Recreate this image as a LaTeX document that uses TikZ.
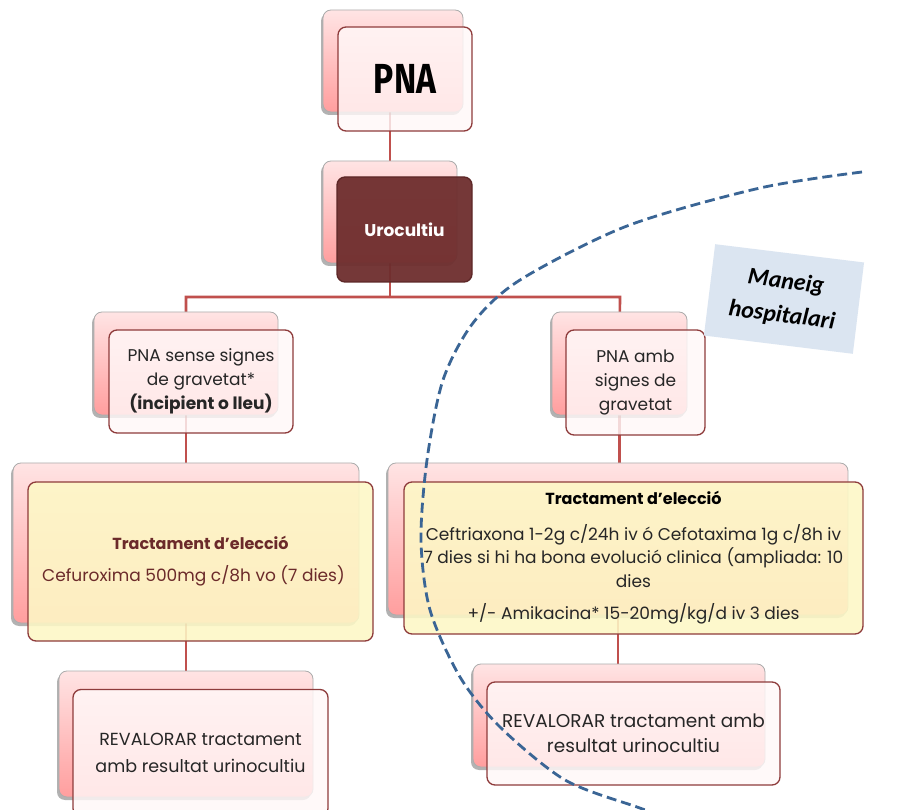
\documentclass[tikz,border=0pt]{standalone}
\usepackage{fontspec}
\setmainfont{Poppins}
\newfontfamily\pnafont{Fira Sans}
\newfontfamily\calfont{Carlito}
\usetikzlibrary{shadows}
\pgfdeclarelayer{bg}
\pgfsetlayers{bg,main}
\definecolor{connred}{HTML}{C0504D}
\definecolor{pinktop}{HTML}{FFE4E4}
\definecolor{pinkbot}{HTML}{FF9E9E}
\definecolor{frontfill}{HTML}{FFF8F8}
\definecolor{frontdraw}{HTML}{8E3B3B}
\definecolor{urofill}{HTML}{6E2E2E}
\definecolor{yellfill}{HTML}{FDF8C6}
\definecolor{curveblue}{HTML}{3A6595}
\definecolor{maneigfill}{HTML}{DBE5F1}
\definecolor{maroontxt}{HTML}{6B2A2A}
\definecolor{bodytxt}{HTML}{262626}
\tikzset{
  conn/.style={draw=connred, line width=2.6pt},
  backbox/.style={draw=gray!65, line width=0.8pt, rounded corners=8pt,
    top color=pinktop, bottom color=pinkbot,
    drop shadow={shadow xshift=-2pt, shadow yshift=-3pt, opacity=0.3, fill=black}},
  frontbox/.style={draw=frontdraw, line width=1.3pt, rounded corners=8pt,
    fill=frontfill, fill opacity=0.82, text opacity=1, align=center,
    text=bodytxt, inner sep=0pt},
  yellbox/.style={frontbox, fill=yellfill, fill opacity=0.88},
  urobox/.style={frontbox, fill=urofill, fill opacity=0.95, draw=urofill!85!black, text=white},
  bodyfont/.style={font=\fontsize{17}{24}\selectfont},
}
\begin{document}
\begin{tikzpicture}[x=1pt,y=-1pt]
\clip (0,0) rectangle (906,810);
\begin{pgfonlayer}{bg}
\fill[white] (0,0) rectangle (906,810);
\end{pgfonlayer}
% back boxes
\path
  (393,61)    node[backbox, minimum width=140, minimum height=102] (pnaB) {}
  (390,212)   node[backbox, minimum width=134, minimum height=102] (uroB) {}
  (186,363.5) node[backbox, minimum width=184, minimum height=103] (midLB) {}
  (619.5,363.5) node[backbox, minimum width=135, minimum height=103] (midRB) {}
  (186,543)   node[backbox, minimum width=346, minimum height=160] (trLB) {}
  (618,539)   node[backbox, minimum width=460, minimum height=152] (trRB) {}
  (186,734)   node[backbox, minimum width=254, minimum height=126] (revLB) {}
  (619,715.5) node[backbox, minimum width=292, minimum height=103] (revRB) {};
\coordinate (busL) at (186,297);
\coordinate (busR) at (620,297);
% front boxes
\node[frontbox, minimum width=134, minimum height=104] (pnaF) at (405,79)
  {\scalebox{0.8}[1]{\pnafont\bfseries\fontsize{42}{42}\selectfont\color{black}PNA}};
\node[urobox, minimum width=135, minimum height=105] (uroF) at (404.5,229.5)
  {\bfseries\fontsize{17}{20}\selectfont Urocultiu};
\node[frontbox, bodyfont, minimum width=184, minimum height=103] (midLF) at (201,381.5)
  {PNA sense signes\\de gravetat*\\\bfseries (incipient o lleu)};
\node[frontbox, bodyfont, minimum width=139, minimum height=105] (midRF) at (635.5,382.5)
  {PNA amb\\signes de\\gravetat};
\node[yellbox, bodyfont, minimum width=345, minimum height=159, text=maroontxt] (trLF) at (200.5,561.5)
  {{\bfseries\fontsize{16}{20}\selectfont Tractament d'elecció}\\[8pt]
   Cefuroxima 500mg c/8h vo (7 dies)\hspace*{14pt}};
\node[yellbox, font=\fontsize{17}{23.5}\selectfont, minimum width=459, minimum height=152] (trRF) at (633.5,558)
  {{\bfseries\fontsize{16}{20}\selectfont\color{black}Tractament d'elecció}\\[12pt]
   Ceftriaxona 1-2g c/24h iv ó Cefotaxima 1g c/8h iv\\
   7 dies si hi ha bona evolució clinica (ampliada: 10\\
   dies\\[9pt]
   +/- Amikacina* 15-20mg/kg/d iv 3 dies};
\node[frontbox, font=\fontsize{17.5}{27}\selectfont, minimum width=255, minimum height=127] (revLF) at (200.5,753)
  {REVALORAR tractament\\amb resultat urinocultiu};
\node[frontbox, font=\fontsize{18.5}{25}\selectfont, minimum width=293, minimum height=103] (revRF) at (633.5,733.5)
  {REVALORAR tractament amb\\resultat urinocultiu};
% connectors
\begin{pgfonlayer}{bg}
\draw[conn] (pnaB.center -| uroB.center) -- (uroB.center);
\draw[conn] (uroB.center) -- (uroB.center |- busL);
\draw[conn] (midLB.center) |- (busR) -- (midRB.center);
\draw[conn] (midLB.center) -- (trLB.center);
\draw[conn] (midRB.center) -- (midRB.center |- trRB.center);
\draw[conn] (trLB.center) -- (revLB.center);
\draw[conn] (trRB.center) -- (trRB.center |- revRB.center);
\end{pgfonlayer}
% dashed boundary
\draw[curveblue, line width=2.8pt, dash pattern=on 10pt off 5pt]
  plot[smooth, tension=0.5] coordinates {
  (862,172) (760,188) (627,226) (520,280) (473,323) (443,380) (427,460)
  (421,540) (430,610) (460,677) (500,727) (565,780) (637,807) (660,815)};
% label
\node[fill=maneigfill, rotate=-7, minimum width=150, minimum height=92,
  align=center, font=\calfont\bfseries\itshape\fontsize{24}{34}\selectfont] (maneig) at (784,299)
  {Maneig\\hospitalari};
\end{tikzpicture}
\end{document}
